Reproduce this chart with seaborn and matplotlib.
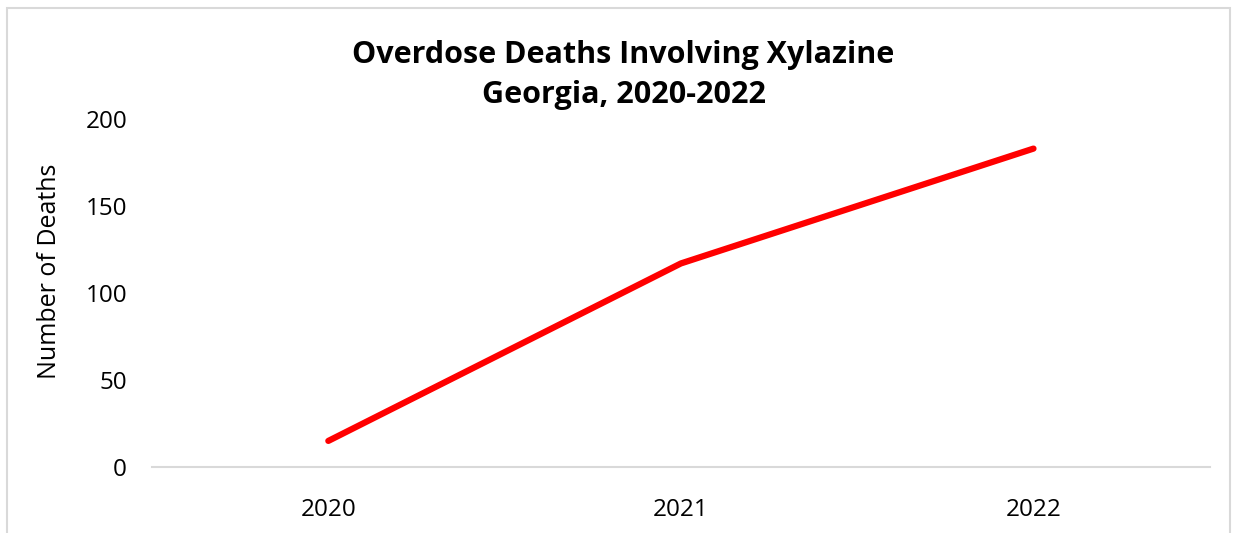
import pandas as pd
import matplotlib.pyplot as plt
import seaborn as sns
from matplotlib.patches import Rectangle

years = ["2020", "2021", "2022"]
deaths = [15, 117, 183]
y_ticks = [0, 50, 100, 150, 200]
title_lines = ["Overdose Deaths Involving Xylazine", "Georgia, 2020-2022"]

df = pd.DataFrame({"Year": years, "Deaths": deaths})

sns.set_style("white")
plt.rcParams["font.family"] = ["Open Sans", "DejaVu Sans"]
plt.rcParams["text.color"] = "black"
plt.rcParams["axes.labelcolor"] = "black"
plt.rcParams["xtick.color"] = "black"
plt.rcParams["ytick.color"] = "black"

fig = plt.figure(figsize=(12.37, 5.33), dpi=100)
ax = fig.add_axes([0.1229, 0.1238, 0.8551, 0.6529])

sns.lineplot(data=df, x="Year", y="Deaths", ax=ax, color="#ff0000",
             linewidth=4.5, solid_capstyle="round", sort=False)

ax.set_xlim(-0.5, 2.5)
ax.set_ylim(0, 200)
ax.set_yticks(y_ticks)
ax.tick_params(axis="both", labelsize=17.5, length=0)
ax.tick_params(axis="y", pad=18)
ax.tick_params(axis="x", pad=22)
ax.set_xlabel("")
ax.set_ylabel("Number of Deaths", fontsize=18)
ax.yaxis.set_label_coords(50 / 1237, 1 - 271.5 / 533, transform=fig.transFigure)
ax.yaxis.label.set_verticalalignment("center")

for side in ["top", "right", "left"]:
    ax.spines[side].set_visible(False)
ax.spines["bottom"].set_color("#d9d9d9")
ax.spines["bottom"].set_linewidth(1.5)

# two-line title, placed by baseline
for line, base_y in zip(title_lines, [63, 103]):
    fig.text(623.5 / 1237, 1 - base_y / 533, line, ha="center", va="baseline",
             fontsize=22, fontweight="bold")

# outer chart border
fig.patches.append(Rectangle((7 / 1237, -0.05), 1223 / 1237, 1 - 8 / 533 + 0.05,
                             transform=fig.transFigure, fill=False,
                             edgecolor="#d9d9d9", linewidth=1.5))

fig.savefig("out.png", dpi=100)
